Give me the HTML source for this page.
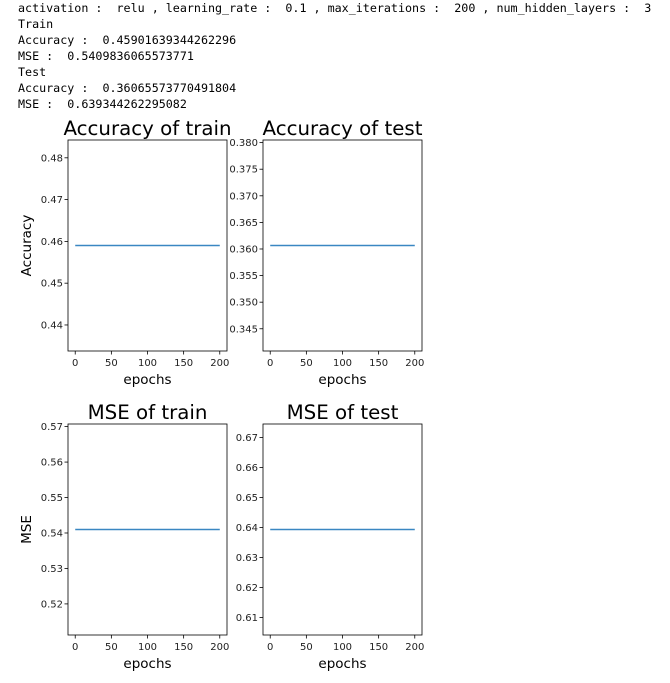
<!DOCTYPE html>
<html><head><meta charset="utf-8">
<style>
body{margin:0;background:#fff;width:670px;height:683px;overflow:hidden;position:relative}
pre{position:absolute;left:18px;top:0;margin:0;font-family:"DejaVu Sans Mono","Liberation Mono",monospace;font-size:11.7px;line-height:16px;color:#000}
svg{position:absolute;left:0;top:0}
</style></head><body>
<pre>activation :  relu , learning_rate :  0.1 , max_iterations :  200 , num_hidden_layers :  3
Train
Accuracy :  0.45901639344262296
MSE :  0.5409836065573771
Test
Accuracy :  0.36065573770491804
MSE :  0.639344262295082</pre>
<svg id="chart" width="670" height="683"></svg>
<script>
const titles=["Accuracy of train","Accuracy of test","MSE of train","MSE of test"];
const values=[0.45901639344262296,0.36065573770491804,0.5409836065573771,0.639344262295082];
const yLabels=["Accuracy","","MSE",""];
const yTicks=[[0.44,0.45,0.46,0.47,0.48],[0.345,0.350,0.355,0.360,0.365,0.370,0.375,0.380],[0.52,0.53,0.54,0.55,0.56,0.57],[0.61,0.62,0.63,0.64,0.65,0.66,0.67]];
const xTicks=[0,50,100,150,200];
const epochs=200;
const boxes=[[68,140],[263,140],[68,424],[263,424]];
const W=159,H=211,NS="http://www.w3.org/2000/svg";
const svg=document.getElementById('chart');
function mk(t,a,p){const e=document.createElementNS(NS,t);for(const k in a)e.setAttribute(k,a[k]);(p||svg).appendChild(e);return e;}
titles.forEach((title,i)=>{
  const [x0,y0]=boxes[i],v=values[i];
  const lo=v-0.055*v,hi=v+0.055*v;
  const sx=d=>x0+(d+10)/220*W, sy=d=>y0+H-(d-lo)/(hi-lo)*H;
  const g=mk('g',{});
  
  
  const t=mk('text',{x:x0+W/2,y:y0-5,'text-anchor':'middle','font-family':'DejaVu Sans, sans-serif','font-size':19.8,fill:'#000'},g);
  t.textContent=title;
  
  
  yTicks[i].forEach(tv=>{
    const y=sy(tv);
    mk('line',{x1:x0-3.5,x2:x0,y1:y,y2:y,stroke:'#000','stroke-width':0.8},g);
    const tl=mk('text',{x:x0-5,y:y+3.5,'text-anchor':'end','font-family':'DejaVu Sans, sans-serif','font-size':10,fill:'#222'},g);
    tl.textContent=tv.toFixed(i==1?3:2);
    
    
  });
  xTicks.forEach(tv=>{
    const x=sx(tv);
    mk('line',{x1:x,x2:x,y1:y0+H,y2:y0+H+3.5,stroke:'#000','stroke-width':0.8},g);
    const tl=mk('text',{x:x,y:y0+H+15,'text-anchor':'middle','font-family':'DejaVu Sans, sans-serif','font-size':10,fill:'#222'},g);
    tl.textContent=tv;
    
    
  });
  const xl=mk('text',{x:x0+W/2,y:y0+H+33,'text-anchor':'middle','font-family':'DejaVu Sans, sans-serif','font-size':13.5,fill:'#000'},g);
  xl.textContent='epochs';
  
  
  if(yLabels[i]){
    const yl=mk('text',{x:0,y:0,'text-anchor':'middle','font-family':'DejaVu Sans, sans-serif','font-size':13.5,fill:'#000',transform:`translate(31,${y0+H/2}) rotate(-90)`},g);
    yl.textContent=yLabels[i];
    
    
  }
  const ln=mk('line',{x1:sx(0),x2:sx(epochs),y1:sy(v),y2:sy(v),stroke:'#3a87c2','stroke-width':1.6},g);
  
  
  const fr=mk('rect',{x:x0,y:y0,width:W,height:H,fill:'none',stroke:'#000','stroke-width':0.8},g);
  
  
});
</script>
</body></html>
